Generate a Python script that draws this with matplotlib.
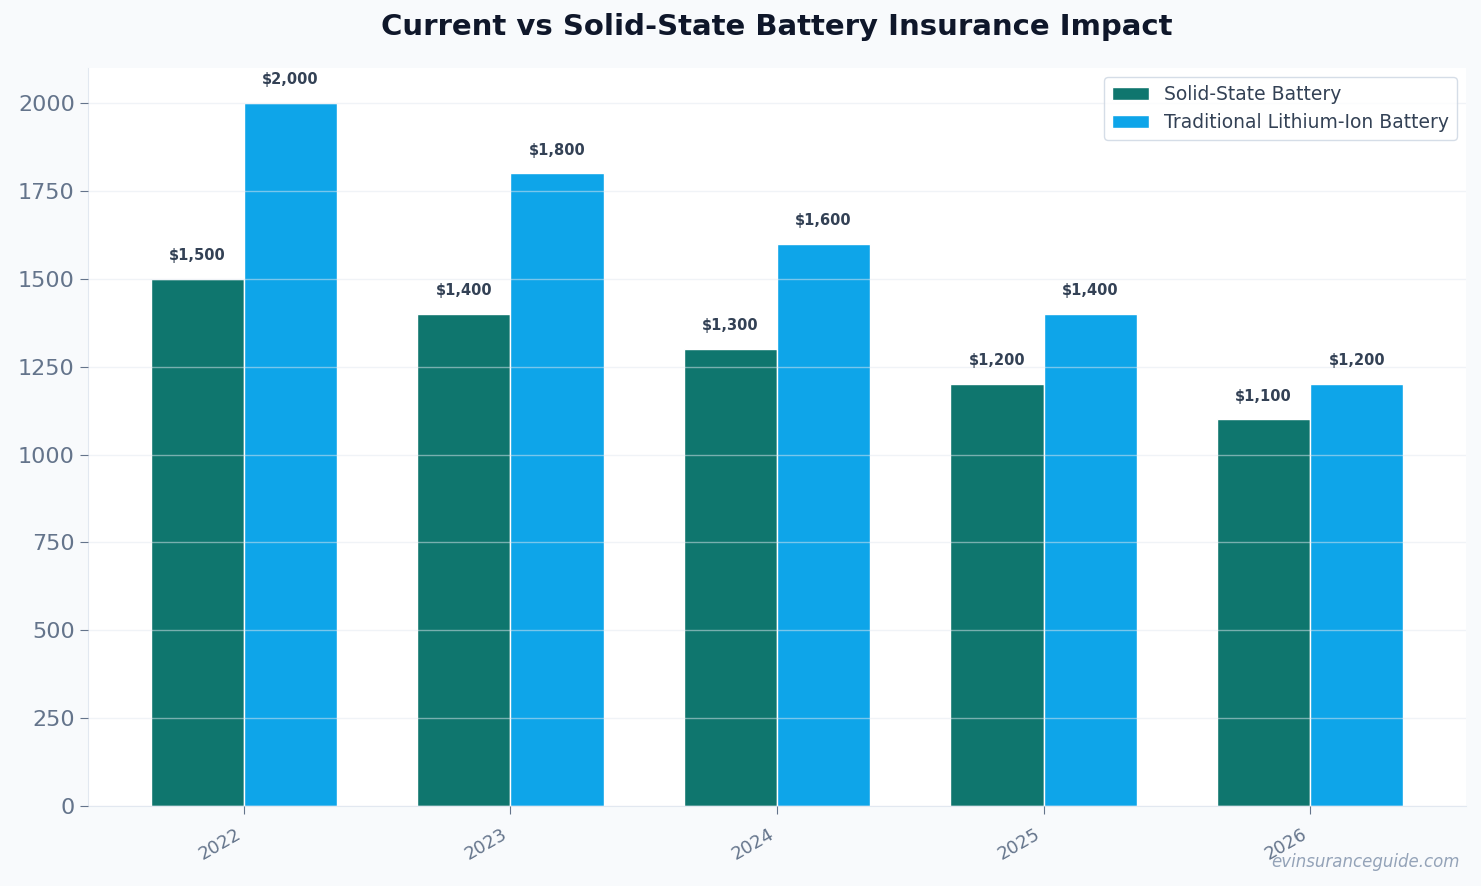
import matplotlib
matplotlib.use("Agg")
import matplotlib.pyplot as plt
import numpy as np

years = ["2022", "2023", "2024", "2025", "2026"]
solid = [1500, 1400, 1300, 1200, 1100]
lithium = [2000, 1800, 1600, 1400, 1200]

fig = plt.figure(figsize=(14.81, 8.86), dpi=100, facecolor="#f8fafc")
ax = fig.add_axes([88/1481, 1-806/886, (1466-88)/1481, (806-68)/886])
ax.set_facecolor("white")
x = np.arange(len(years))
w = 0.35
b1 = ax.bar(x - w/2, solid, w, color="#0f766e", edgecolor="white", linewidth=1, label="Solid-State Battery", zorder=2)
b2 = ax.bar(x + w/2, lithium, w, color="#0ea5e9", edgecolor="white", linewidth=1, label="Traditional Lithium-Ion Battery", zorder=2)
for bars, vals in ((b1, solid), (b2, lithium)):
    for r, v in zip(bars, vals):
        ax.text(r.get_x()+r.get_width()/2, v+45, f"${v:,}", ha="center", va="bottom",
                fontsize=10.5, fontweight="bold", color="#334155")
ax.set_xlim(-0.585, 4.585)
ax.set_ylim(0, 2100)
ax.set_yticks(range(0, 2001, 250))
ax.set_xticks(x)
ax.set_xticklabels(years, rotation=30, ha="right", fontsize=13, color="#64748b")
ax.tick_params(axis="y", labelsize=16, labelcolor="#64748b", color="#64748b", length=6)
ax.tick_params(axis="x", color="#64748b", length=6, pad=8)
ax.grid(axis="y", color="#e2e8f0", alpha=0.5, linewidth=1, zorder=3)
ax.set_axisbelow(False)
for s in ("top", "right"):
    ax.spines[s].set_visible(False)
for s in ("left", "bottom"):
    ax.spines[s].set_color("#e2e8f0")
ax.legend(loc="upper right", fontsize=13.5, frameon=True, edgecolor="#cbd5e1", labelcolor="#334155", fancybox=True)
fig.text(777/1481, 1-27/886, "Current vs Solid-State Battery Insurance Impact", ha="center", va="center",
         fontsize=21, fontweight="bold", color="#0f172a")
fig.text(1460/1481, 1-862/886, "evinsuranceguide.com", ha="right", va="center", fontsize=12, style="italic", color="#94a3b8")
fig.savefig("out.png", dpi=100, facecolor=fig.get_facecolor())
